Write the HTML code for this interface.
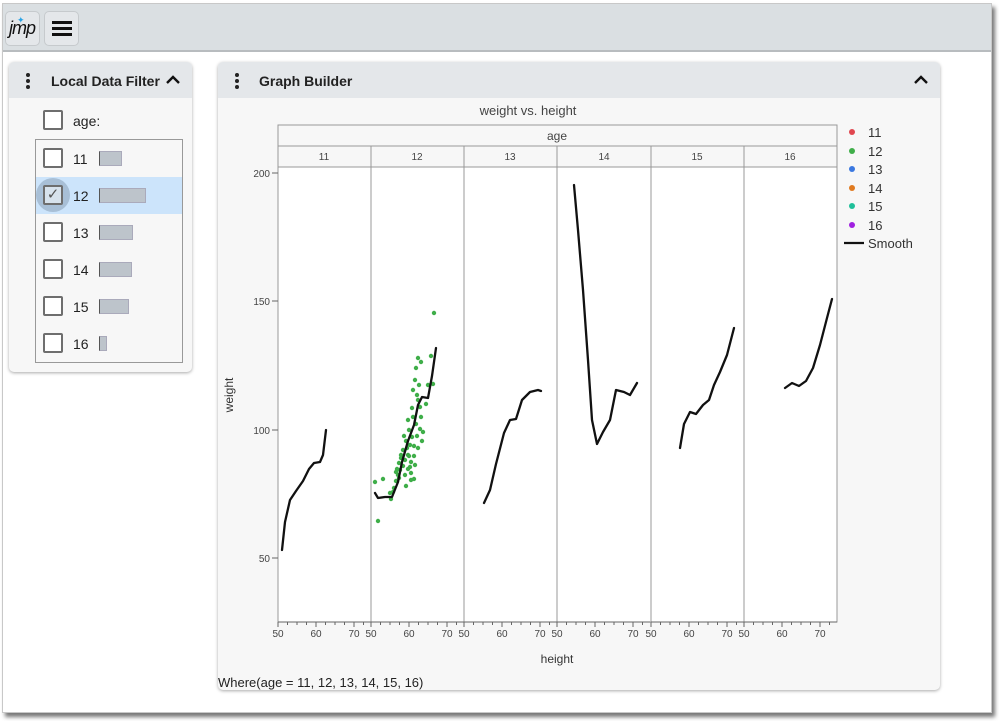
<!DOCTYPE html>
<html><head><meta charset="utf-8"><style>
*{box-sizing:border-box;margin:0;padding:0}
body{width:999px;height:721px;background:#fff;font-family:"Liberation Sans",Arial,sans-serif;position:relative;overflow:hidden}
.a{position:absolute}
.win{left:2px;top:3px;width:990px;height:710px;background:#fff;border:1px solid #c8c8c8;box-shadow:3px 4px 4px #777}
.tb{left:3px;top:4px;width:988px;height:48px;background:#dadfe2;border-bottom:2px solid #b8bcbf}
.btn{top:11px;width:35px;height:35px;background:#e4e7ea;border:1px solid #c6cacd;border-radius:5px}
.card{background:#f7f7f7;border-radius:5px;box-shadow:0 1px 3px #aaa}
.hd{background:#e4e7ea;border-radius:5px 5px 0 0;height:36px;font-weight:bold;font-size:14px;color:#222}
.cb{width:20px;height:20px;border:2px solid #6e6e6e;border-radius:2px;background:#fff}
.row{font-size:14px;color:#222}
.bar{height:15px;background:#bdc4cb;border-left:1px solid #555;border-top:1px solid #aab;border-right:1px solid #aab;border-bottom:1px solid #aab}
</style></head><body>
<div class="a win"></div>
<div class="a tb"></div>
<div class="a btn" style="left:5px"><span class="a" style="left:3px;top:6px;font-size:18px;font-style:italic;color:#111;letter-spacing:-1px">jmp</span><span class="a" style="left:11px;top:3px;color:#29a3e6;font-size:9px">✦</span></div>
<div class="a btn" style="left:44px"><div class="a" style="left:7px;top:9px;width:20px;height:3px;background:#111"></div><div class="a" style="left:7px;top:15px;width:20px;height:3px;background:#111"></div><div class="a" style="left:7px;top:21px;width:20px;height:3px;background:#111"></div></div>

<!-- Local Data Filter -->
<div class="a card" style="left:9px;top:62px;width:183px;height:310px"></div>
<div class="a hd" style="left:9px;top:62px;width:183px"><span class="a" style="left:42px;top:11px">Local Data Filter</span></div>
<svg class="a" style="left:165px;top:73px" width="16" height="12"><polyline points="2,10 8,4 14,10" fill="none" stroke="#111" stroke-width="2.4"/></svg>
<div class="a" style="left:26px;top:73px;width:4px;height:4px;border-radius:2px;background:#222"></div>
<div class="a" style="left:26px;top:79px;width:4px;height:4px;border-radius:2px;background:#222"></div>
<div class="a" style="left:26px;top:85px;width:4px;height:4px;border-radius:2px;background:#222"></div>
<div class="a cb" style="left:43px;top:110px"></div><span class="a row" style="left:73px;top:113px">age:</span>
<div class="a" style="left:35px;top:139px;width:148px;height:224px;border:1px solid #999;background:#f7f7f7"></div>
<div class="a" style="left:36px;top:177px;width:146px;height:37px;background:#cce4fb"></div>
<div class="a" style="left:36px;top:178px;width:34px;height:34px;border-radius:17px;background:#a8bfd6"></div>
<div class="a cb" style="left:43px;top:148px"></div><span class="a row" style="left:73px;top:151px">11</span><div class="a bar" style="left:99px;top:151px;width:23px"></div>
<div class="a cb" style="left:43px;top:185px;background:#d7e2ec;color:#555;font-size:15px;line-height:16px;text-align:center">✓</div><span class="a row" style="left:73px;top:188px">12</span><div class="a bar" style="left:99px;top:188px;width:47px"></div>
<div class="a cb" style="left:43px;top:222px"></div><span class="a row" style="left:73px;top:225px">13</span><div class="a bar" style="left:99px;top:225px;width:34px"></div>
<div class="a cb" style="left:43px;top:259px"></div><span class="a row" style="left:73px;top:262px">14</span><div class="a bar" style="left:99px;top:262px;width:33px"></div>
<div class="a cb" style="left:43px;top:296px"></div><span class="a row" style="left:73px;top:299px">15</span><div class="a bar" style="left:99px;top:299px;width:30px"></div>
<div class="a cb" style="left:43px;top:333px"></div><span class="a row" style="left:73px;top:336px">16</span><div class="a bar" style="left:99px;top:336px;width:8px"></div>

<!-- Graph Builder -->
<div class="a card" style="left:218px;top:62px;width:722px;height:628px"></div>
<div class="a hd" style="left:218px;top:62px;width:722px"><span class="a" style="left:41px;top:11px">Graph Builder</span></div>
<svg class="a" style="left:913px;top:73px" width="16" height="12"><polyline points="2,10 8,4 14,10" fill="none" stroke="#111" stroke-width="2.4"/></svg>
<div class="a" style="left:235px;top:73px;width:4px;height:4px;border-radius:2px;background:#222"></div>
<div class="a" style="left:235px;top:79px;width:4px;height:4px;border-radius:2px;background:#222"></div>
<div class="a" style="left:235px;top:85px;width:4px;height:4px;border-radius:2px;background:#222"></div>
<span class="a" style="left:218px;top:675px;font-size:13px;color:#222">Where(age = 11, 12, 13, 14, 15, 16)</span>

<svg class="a" style="left:0;top:0" width="999" height="721" font-family="Liberation Sans,Arial,sans-serif">
<text x="528" y="115" font-size="13" fill="#444" text-anchor="middle">weight vs. height</text>
<rect x="278" y="125" width="559" height="21" fill="#f7f7f7" stroke="#999"/>
<text x="557" y="140" font-size="12" fill="#444" text-anchor="middle">age</text>
<rect x="278" y="146" width="559" height="21" fill="#f7f7f7" stroke="#999"/>
<rect x="278" y="167" width="559" height="455" fill="#fff" stroke="#999"/>
<g stroke="#999">
<line x1="371" y1="146" x2="371" y2="622"/><line x1="464" y1="146" x2="464" y2="622"/><line x1="557" y1="146" x2="557" y2="622"/><line x1="651" y1="146" x2="651" y2="622"/><line x1="744" y1="146" x2="744" y2="622"/>
</g>
<g font-size="10" fill="#444" text-anchor="middle">
<text x="324" y="160">11</text><text x="417" y="160">12</text><text x="510" y="160">13</text><text x="604" y="160">14</text><text x="697" y="160">15</text><text x="790" y="160">16</text>
</g>
<g font-size="10" fill="#444" text-anchor="end">
<text x="270" y="177">200</text><text x="270" y="305">150</text><text x="270" y="434">100</text><text x="270" y="562">50</text>
</g>
<g stroke="#666"><line x1="272" y1="173" x2="278" y2="173"/><line x1="272" y1="301" x2="278" y2="301"/><line x1="272" y1="430" x2="278" y2="430"/><line x1="272" y1="558" x2="278" y2="558"/></g>
<text transform="translate(233,395) rotate(-90)" font-size="12" fill="#333" text-anchor="middle">weight</text>
<text x="557" y="663" font-size="12" fill="#333" text-anchor="middle">height</text>
<g id="ax" font-size="10" fill="#444" text-anchor="middle" stroke-width="1"></g>
<g fill="#3fae49" id="pts"></g>
<g fill="none" stroke="#111" stroke-width="2.3" stroke-linejoin="round" stroke-linecap="round">
<polyline points="282,550 285,522 290,500 296,491 303,481 309,469 314,463 320,462 323,455 326,430"/>
<polyline points="375,493 378,498 385,497 392,497 398,482 402,462 408,441 414,425 418,405 422,397 428,398 432,376 436,348"/>
<polyline points="484,503 490,490 496,464 504,433 510,420 516,419 522,400 530,392 538,390 541,391"/>
<polyline points="574,185 578,230 583,290 588,360 592,420 597,444 603,432 610,420 616,390 624,392 630,395 637,383"/>
<polyline points="680,448 684,424 690,412 696,414 703,405 709,400 714,385 720,372 727,355 734,328"/>
<polyline points="785,388 792,383 799,386 806,381 813,368 820,345 827,318 832,299"/>
</g>
<g font-size="13" fill="#333">
<circle cx="852" cy="132" r="3" fill="#e0464f"/><text x="868" y="137">11</text>
<circle cx="852" cy="151" r="3" fill="#3fae49"/><text x="868" y="156">12</text>
<circle cx="852" cy="169" r="3" fill="#3b78e0"/><text x="868" y="174">13</text>
<circle cx="852" cy="188" r="3" fill="#e07a20"/><text x="868" y="193">14</text>
<circle cx="852" cy="206" r="3" fill="#1fbf99"/><text x="868" y="211">15</text>
<circle cx="852" cy="225" r="3" fill="#a020e0"/><text x="868" y="230">16</text>
<line x1="844" y1="243" x2="864" y2="243" stroke="#111" stroke-width="2.3"/><text x="868" y="248">Smooth</text>
</g>
</svg>
<script>
var ax=document.getElementById('ax'),s='';
[278,371,464,557,651,744].forEach(function(L){
 s+='<line x1="'+L+'" y1="622" x2="'+(L+93)+'" y2="622" stroke="#666"/>';
 for(var h=50;h<=74;h+=2.5){var x=L+(h-50)*3.8;s+='<line x1="'+x+'" y1="622" x2="'+x+'" y2="'+(h%10==0?627:625)+'" stroke="#666"/>';}
 [50,60,70].forEach(function(h){s+='<text x="'+(L+(h-50)*3.8)+'" y="637">'+h+'</text>';});
});
ax.innerHTML=s;
var p=[[375,482],[383,479],[378,521],[390,493],[391,499],[393,492],[394,488],[396,481],[397,469],[398,475],[399,463],[400,470],[401,458],[401,455],[403,450],[403,466],[405,460],[405,475],[406,441],[406,486],[407,448],[408,469],[408,455],[409,430],[410,467],[410,445],[411,462],[411,473],[412,408],[412,437],[413,417],[413,390],[414,456],[414,446],[414,479],[415,380],[415,465],[416,368],[416,424],[417,395],[417,436],[418,358],[418,400],[418,448],[419,385],[420,407],[420,429],[421,362],[421,417],[422,441],[408,420],[404,436],[399,478],[396,472],[423,432],[426,404],[428,385],[431,356],[433,384],[434,313],[409,456],[411,480]];
var g='';p.forEach(function(q){g+='<circle cx="'+q[0]+'" cy="'+q[1]+'" r="2.2"/>';});
document.getElementById('pts').innerHTML=g;
</script>
</body></html>
